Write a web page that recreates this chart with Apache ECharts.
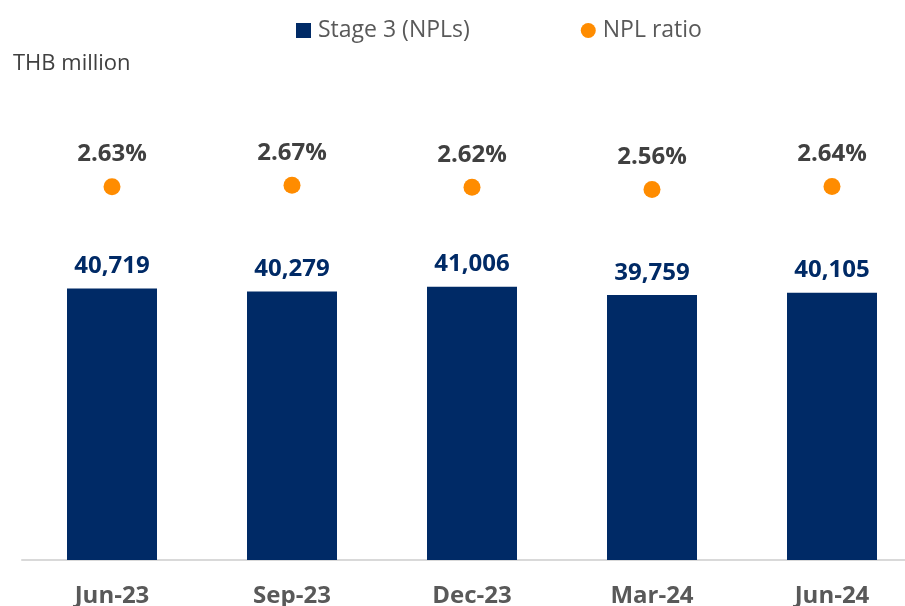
<!DOCTYPE html>
<html>
<head>
<meta charset="utf-8">
<script src="https://cdn.jsdelivr.net/npm/echarts@6/dist/echarts.min.js"></script>
<style>html,body{margin:0;padding:0;background:#fff;}#c{width:905px;height:606px;}</style>
</head>
<body>
<div id="c"></div>
<script>
var categories = ['Jun-23', 'Sep-23', 'Dec-23', 'Mar-24', 'Jun-24'];
var stage3NPLs = [40719, 40279, 41006, 39759, 40105];
var nplRatio = [2.63, 2.67, 2.62, 2.56, 2.64];

var FONT = "'Open Sans', 'Noto Sans', sans-serif";
var chart = echarts.init(document.getElementById('c'), null, {renderer: 'canvas'});
chart.setOption({
  animation: false,
  backgroundColor: '#ffffff',
  textStyle: {fontFamily: FONT},
  title: {
    text: 'THB million',
    left: 13, top: 53, padding: 0,
    textStyle: {fontSize: 22, fontWeight: 'normal', color: '#404040', fontFamily: FONT}
  },
  legend: {
    left: 296, top: 19, padding: 0,
    itemWidth: 15, itemHeight: 15, itemGap: 111,
    textStyle: {fontSize: 23, color: '#595959', fontFamily: FONT, padding: [0, 0, 0, 2]},
    data: [
      {name: 'Stage 3 (NPLs)', icon: 'rect'},
      {name: 'NPL ratio', icon: 'circle'}
    ]
  },
  grid: {left: 22, width: 900, top: 160, height: 400, containLabel: false, outerBoundsMode: 'none'},
  xAxis: {
    type: 'category',
    data: categories,
    boundaryGap: true,
    axisLine: {show: true, lineStyle: {color: '#D9D9D9', width: 2}},
    axisTick: {show: false},
    axisLabel: {fontSize: 24, fontWeight: 'bold', color: '#595959', margin: 24, fontFamily: FONT}
  },
  yAxis: [
    {type: 'value', min: 0, max: 60000, show: false, splitLine: {show: false}},
    {type: 'value', min: -6.7, max: 3.3, show: false, splitLine: {show: false}}
  ],
  series: [
    {
      name: 'Stage 3 (NPLs)',
      type: 'bar',
      data: stage3NPLs,
      barWidth: 90,
      itemStyle: {color: '#002A66'},
      label: {
        show: true, position: 'top', distance: 10,
        fontSize: 24, fontWeight: 'bold', color: '#002A66', fontFamily: FONT,
        formatter: function (p) { return p.value.toLocaleString('en-US'); }
      }
    },
    {
      name: 'NPL ratio',
      type: 'line',
      yAxisIndex: 1,
      data: nplRatio,
      symbol: 'circle',
      symbolSize: 17,
      lineStyle: {width: 0, opacity: 0},
      itemStyle: {color: '#FF8C00'},
      label: {
        show: true, position: 'top', distance: 12,
        fontSize: 24, fontWeight: 'bold', color: '#404040', fontFamily: FONT,
        formatter: function (p) { return p.value.toFixed(2) + '%'; }
      }
    }
  ]
});
</script>
</body>
</html>
